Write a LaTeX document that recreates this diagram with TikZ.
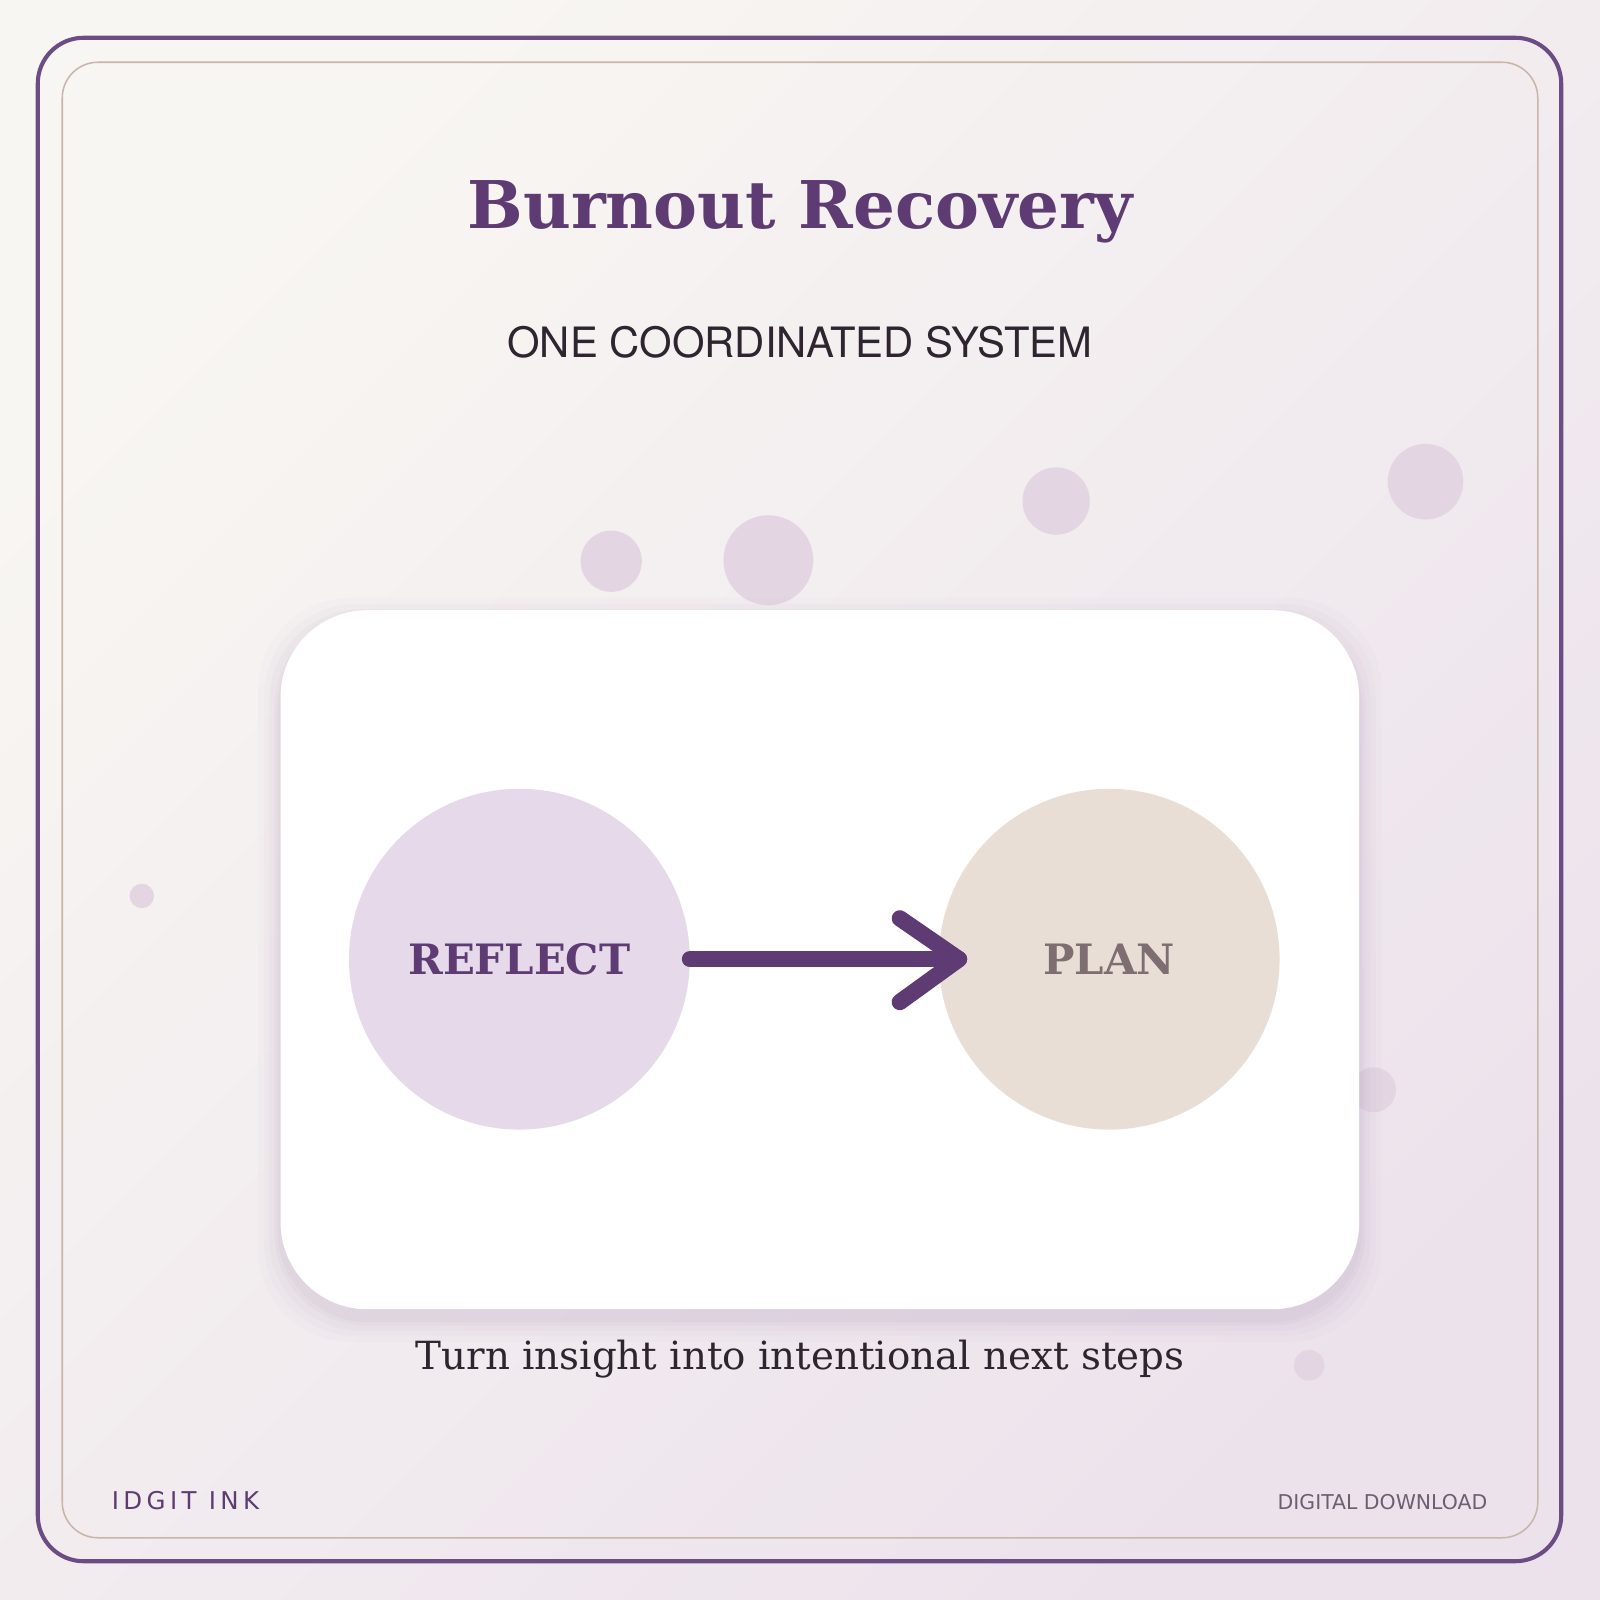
\documentclass[tikz,border=0pt]{standalone}
\usepackage{fontspec}
\setmainfont{DejaVu Serif}
\newfontfamily\heros{TeX Gyre Heros}
\newfontfamily\dejasans{DejaVu Sans}
\newfontfamily\dejaspaced[LetterSpace=18]{DejaVu Sans}
\definecolor{bgA}{HTML}{F8F6F2}
\definecolor{bgB}{HTML}{ECE2EC}
\definecolor{frameP}{HTML}{6B4C85}
\definecolor{frameT}{HTML}{C9B5AA}
\definecolor{deepP}{HTML}{5E3C73}
\definecolor{inkD}{HTML}{2E2530}
\definecolor{dotC}{HTML}{E3D6E2}
\definecolor{lilac}{HTML}{E5D9EA}
\definecolor{sand}{HTML}{E8DED6}
\definecolor{planT}{HTML}{7E6E72}
\definecolor{grayP}{HTML}{6E5F70}
\definecolor{shadowC}{HTML}{B8A2C0}
\tikzset{
  dot/.style={circle,fill=dotC,inner sep=0pt},
  stage/.style={circle,inner sep=0pt,minimum size=334pt,font=\fontsize{41}{48}\selectfont\bfseries},
  flow/.style={draw=deepP,line width=16pt,line cap=round,line join=round}
}
\begin{document}
\begin{tikzpicture}[x=1pt,y=-1pt]
\useasboundingbox (0,0) rectangle (1568,1568);
\shade[left color=bgA,right color=bgB,shading angle=45] (0,0) rectangle (1568,1568);
\draw[frameP,line width=4pt,rounded corners=45pt] (37,37) rectangle (1530,1530);
\draw[frameT,line width=1.5pt,rounded corners=35pt] (61,61) rectangle (1507,1507);
\node[text=deepP,font=\fontsize{64.5}{72}\selectfont\bfseries] (title) at (784,208) {Burnout Recovery};
\node[text=inkD,font=\heros\fontsize{41}{46}\selectfont] (sub) at (784,335) {ONE COORDINATED SYSTEM};
\node[dot,minimum size=60pt] (d1) at (599,550) {};
\node[dot,minimum size=88pt] (d2) at (753,549) {};
\node[dot,minimum size=66pt] (d3) at (1035,491) {};
\node[dot,minimum size=74pt] (d4) at (1397,472) {};
\node[dot,minimum size=24pt] (d5) at (139,878) {};
\node[dot,minimum size=44pt] (d6) at (1346,1068) {};
\node[dot,minimum size=30pt] (d7) at (1283,1338) {};
\foreach \s/\o in {22/0.04,16/0.05,11/0.06,6/0.08,3/0.1}{
  \fill[shadowC,opacity=\o,rounded corners=90pt] (275-\s,598-\s+10) rectangle (1332+\s,1283+\s+10);
}
\fill[white,rounded corners=85pt] (275,598) rectangle (1332,1283);
\node[stage,fill=lilac,text=deepP] (reflect) at (509,940) {REFLECT};
\node[stage,fill=sand,text=planT] (plan) at (1087,940) {PLAN};
\coordinate (tip) at ([xshift=20pt]plan.west);
\draw[flow] (reflect.east) -- (tip);
\draw[flow] ([shift={(-58,-40)}]tip) -- (tip) -- ([shift={(-58,42)}]tip);
\node[text=inkD,font=\fontsize{38}{44}\selectfont] (cap) at (784,1332) {Turn insight into intentional next steps};
\node[text=deepP,font=\dejaspaced\fontsize{24}{28}\selectfont,anchor=west] (brand) at (106,1471) {IDGIT INK};
\node[text=grayP,font=\dejasans\fontsize{20}{24}\selectfont,anchor=east] (dl) at (1461,1472) {DIGITAL DOWNLOAD};
\end{tikzpicture}
\end{document}
